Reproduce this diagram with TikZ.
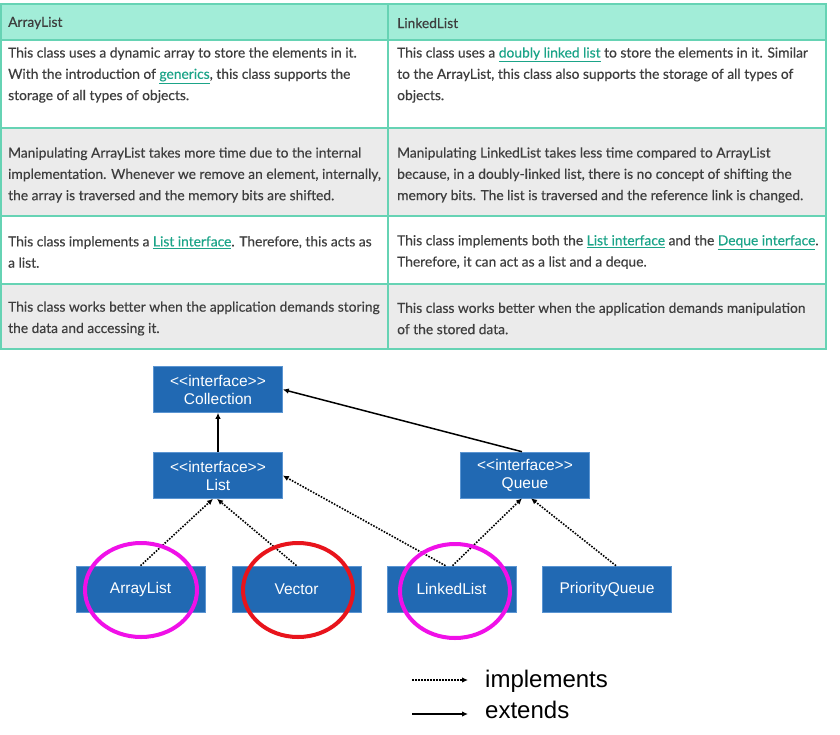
\documentclass[tikz,border=0pt]{standalone}
\usepackage{fontspec}
\setmainfont{Lato}[UprightFeatures={FakeBold=0.35}]
\newfontfamily\arialfont{Liberation Sans}
\usetikzlibrary{arrows.meta}
\definecolor{txt}{HTML}{3E3E3E}
\definecolor{lnk}{HTML}{1BA488}
\definecolor{hdr}{HTML}{A2EDD8}
\definecolor{gridc}{HTML}{66D3B4}
\definecolor{rowgray}{HTML}{EBEBEB}
\definecolor{boxblue}{HTML}{2169B3}
\definecolor{boxedge}{HTML}{5B95D2}
\definecolor{ringpink}{HTML}{F010E8}
\definecolor{ringred}{HTML}{E8141C}
\newcommand{\lk}[1]{\textcolor{lnk}{\underline{#1}}}
\begin{document}
\begin{tikzpicture}[x=1pt,y=-1pt,
 cell/.style={anchor=west,align=left,inner sep=0pt,text=txt,font=\fontsize{13.8}{21.3}\selectfont},
 cls/.style={draw=boxedge,fill=boxblue,line width=0.6pt,minimum width=129pt,minimum height=46pt,text=white,align=center,inner sep=0pt,font=\arialfont\fontsize{15.5}{18}\selectfont},
 impl/.style={line width=1.6pt,dash pattern=on 1.6pt off 1.4pt,-{Latex[length=6pt,width=5.5pt]}},
 ext/.style={line width=1.5pt,-{Latex[length=6pt,width=5.5pt]}},
 ring/.style={line width=4pt},
 legend/.style={anchor=west,inner sep=0pt,font=\arialfont\fontsize{24}{28}\selectfont}]
\useasboundingbox (0,0) rectangle (840,734);
\fill[white] (0,0) rectangle (840,734);
% table
\fill[hdr] (1,4) rectangle (826,40);
\fill[white] (1,40) rectangle (826,128);
\fill[rowgray] (1,128) rectangle (826,216);
\fill[white] (1,216) rectangle (826,284);
\fill[rowgray] (1,284) rectangle (826,349);
\draw[gridc,line width=1.4pt] (1,4) rectangle (826,349);
\foreach \yy in {40,128,216,284} \draw[gridc,line width=1.4pt] (1,\yy) -- (826,\yy);
\draw[gridc,line width=1.4pt] (388,4) -- (388,349);
\node[cell] (h1) at (8,23) {ArrayList};
\node[cell] (h2) at (397,23) {LinkedList};
\node[cell] (a1) at (8,75) {This class uses a dynamic array to store the elements in it.\\With the introduction of \lk{generics}, this class supports the\\storage of all types of objects.};
\node[cell] (b1) at (397,75) {This class uses a \lk{doubly linked list} to store the elements in it. Similar\\to the ArrayList, this class also supports the storage of all types of\\objects.};
\node[cell] (a2) at (8,175) {Manipulating ArrayList takes more time due to the internal\\implementation. Whenever we remove an element, internally,\\the array is traversed and the memory bits are shifted.};
\node[cell] (b2) at (397,175) {Manipulating LinkedList takes less time compared to ArrayList\\because, in a doubly-linked list, there is no concept of shifting the\\memory bits. The list is traversed and the reference link is changed.};
\node[cell] (a3) at (8,252) {This class implements a \lk{List interface}. Therefore, this acts as\\a list.};
\node[cell] (b3) at (397,252) {This class implements both the \lk{List interface} and the \lk{Deque interface}.\\Therefore, it can act as a list and a deque.};
\node[cell] (a4) at (8,318.5) {This class works better when the application demands storing\\the data and accessing it.};
\node[cell] (b4) at (397,318.5) {This class works better when the application demands manipulation\\of the stored data.};
% diagram
\node[cls] (coll) at (218,389.5) {<<interface>>\\Collection};
\node[cls] (list) at (218,475.5) {<<interface>>\\List};
\node[cls] (queue) at (525,475) {<<interface>>\\Queue};
\node[cls] (al) at (140.5,589) {ArrayList};
\node[cls] (vec) at (296.5,589) {Vector};
\node[cls] (ll) at (451.5,589) {LinkedList};
\node[cls] (pq) at (607,589) {PriorityQueue};
\draw[ext] (list.north) -- (coll.south);
\draw[ext] ([xshift=-3pt]queue.north) -- (coll.east);
\draw[impl] (al.north) -- ([xshift=-5pt]list.south);
\draw[impl] (vec.north) -- ([xshift=-1pt]list.south);
\draw[impl] ([xshift=-6pt]ll.north) -- (list.east);
\draw[impl] ([xshift=1pt]ll.north) -- ([xshift=-3pt]queue.south);
\draw[impl] ([xshift=9pt]pq.north) -- ([xshift=6pt]queue.south);
% rings
\draw[ring,ringpink] ([xshift=0.5pt,yshift=-1pt]al.center) ellipse [x radius=56pt,y radius=47pt];
\draw[ring,ringred] ([xshift=1.5pt,yshift=-1pt]vec.center) ellipse [x radius=55pt,y radius=47pt];
\draw[ring,ringpink] ([xshift=3.5pt,yshift=-2pt]ll.center) ellipse [x radius=55pt,y radius=47pt];
% legend
\coordinate (i1) at (412,680);
\coordinate (i2) at (468,680);
\coordinate (e1) at (412,714);
\coordinate (e2) at (468,714);
\draw[impl] (i1) -- (i2);
\draw[ext] (e1) -- (e2);
\node[legend] (ti) at (485,681) {implements};
\node[legend] (te) at (485,710) {extends};
\end{tikzpicture}
\end{document}
